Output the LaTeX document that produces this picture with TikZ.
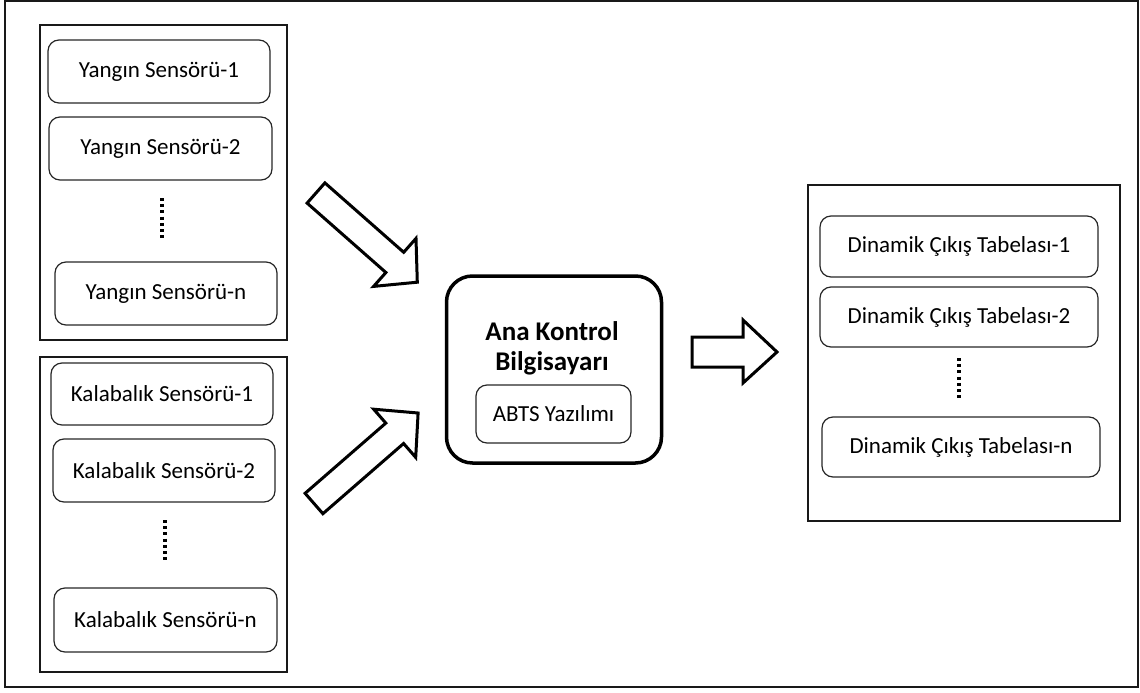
\documentclass[tikz,border=0pt]{standalone}
\usepackage{fontspec}
\setmainfont{Carlito}
\begin{document}
\begin{tikzpicture}[x=1pt,y=-1pt,
  frame/.style={draw=black!90,line width=2pt},
  group/.style={draw=black!90,line width=2pt,inner sep=0pt},
  item/.style={draw=black!85,line width=1.2pt,rounded corners=11pt,inner sep=0pt,font=\fontsize{23}{27}\selectfont},
  hub/.style={draw=black,line width=3.5pt,rounded corners=26pt,inner sep=0pt},
  hubtitle/.style={font=\bfseries\fontsize{27}{30}\selectfont,align=center,inner sep=0pt},
  dots/.style={line width=3.2pt,dash pattern=on 3pt off 3.2pt},
  blockarrow/.style={draw=black,line width=3pt,fill=white,line join=miter}]
\useasboundingbox (0,0) rectangle (1140,693);
\draw[frame] (5,1) rectangle (1138,687);

% upper-left group
\node[group,minimum width=247pt,minimum height=315pt] (fire) at (163.5,182.5) {};
\node[item,minimum width=222pt,minimum height=63pt] (y1) at (159,71.5) {Yangın Sensörü-1};
\node[item,minimum width=223pt,minimum height=63pt] (y2) at (160.5,148.5) {Yangın Sensörü-2};
\node[item,minimum width=222pt,minimum height=63pt] (yn) at (166,293.5) {Yangın Sensörü-n};
\coordinate (yd1) at (162,198);
\coordinate (yd2) at (162,240);
\draw[dots] (yd1) -- (yd2);

% lower-left group
\node[group,minimum width=247pt,minimum height=315pt] (crowd) at (163.5,514.5) {};
\node[item,minimum width=222pt,minimum height=62pt] (k1) at (162,394) {Kalabalık Sensörü-1};
\node[item,minimum width=222pt,minimum height=63pt] (k2) at (164,470.5) {Kalabalık Sensörü-2};
\node[item,minimum width=223pt,minimum height=64pt] (kn) at (165.5,620) {Kalabalık Sensörü-n};
\coordinate (kd1) at (165,520);
\coordinate (kd2) at (165,560);
\draw[dots] (kd1) -- (kd2);

% center
\node[hub,minimum width=215pt,minimum height=187pt] (main) at (554,369.5) {};
\node[hubtitle] (title) at (552,348) {Ana Kontrol\\Bilgisayarı};
\node[item,minimum width=155pt,minimum height=58pt] (abts) at (553.5,414) {ABTS Yazılımı};

% right group
\node[group,minimum width=312pt,minimum height=336pt] (signs) at (964,353) {};
\node[item,minimum width=278pt,minimum height=61pt] (d1) at (959,246.5) {Dinamik Çıkış Tabelası-1};
\node[item,minimum width=278pt,minimum height=60pt] (d2) at (959,317) {Dinamik Çıkış Tabelası-2};
\node[item,minimum width=278pt,minimum height=60pt] (dn) at (961,447) {Dinamik Çıkış Tabelası-n};
\coordinate (dd1) at (959,358);
\coordinate (dd2) at (959,400);
\draw[dots] (dd1) -- (dd2);

% block arrows
\draw[blockarrow] (307.1,203.1) -- (385.9,272.5) -- (373.6,286.4) -- (417.3,282.2) -- (416.0,238.4) -- (403.7,252.3) -- (324.9,182.9) -- cycle;
\draw[blockarrow] (305.1,493.3) -- (385.8,423.1) -- (373.7,409.2) -- (418.1,413.0) -- (415.7,457.4) -- (403.6,443.5) -- (322.9,513.7) -- cycle;
\draw[blockarrow] (692,337) -- (743,337) -- (743,320) -- (777,352) -- (743,383) -- (743,367) -- (692,367) -- cycle;
\end{tikzpicture}
\end{document}
